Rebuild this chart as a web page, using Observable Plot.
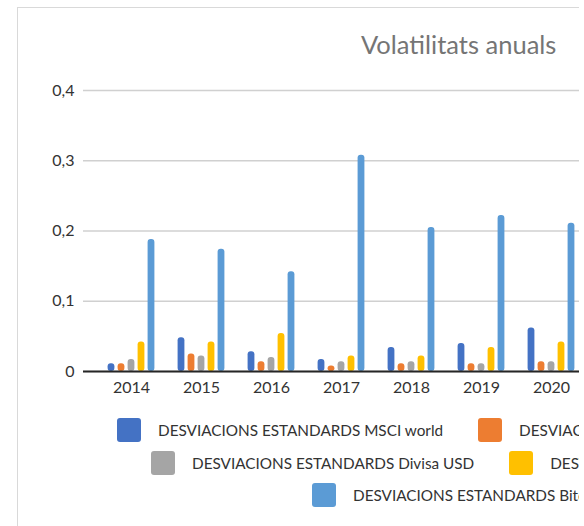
<!DOCTYPE html>
<html>
<head>
<meta charset="utf-8">
<script src="https://cdn.jsdelivr.net/npm/d3@7"></script>
<script src="https://cdn.jsdelivr.net/npm/@observablehq/plot@0.6"></script>
<style>
  html, body { margin: 0; padding: 0; background: #fff; }
  #wrap { position: relative; width: 579px; height: 526px; overflow: hidden; font-family: Lato, "Open Sans", sans-serif; }
  #frame { position: absolute; left: 17px; top: 7px; width: 900px; height: 700px; border: 1px solid #d9d9d9; box-sizing: border-box; }
  #chart { position: absolute; left: 0; top: 0; width: 579px; }
  #chart svg { max-width: none !important; }
  #title { position: absolute; left: 361px; top: 32px; font-size: 25.5px; line-height: 25.5px; color: #757575; white-space: nowrap; }
  .row { position: absolute; display: flex; align-items: center; white-space: nowrap; }
  .item { display: flex; align-items: center; margin-right: 35px; }
  .sw { width: 24px; height: 24px; border-radius: 3px; margin-right: 17px; flex: none; }
  .lab { font-size: 15.3px; color: #333; }
</style>
</head>
<body>
<div id="wrap">
  <div id="frame"></div>
  <div id="chart"></div>
  <div id="title">Volatilitats anuals</div>
  <div class="row" id="row0" style="left:117px; top:418px;"></div>
  <div class="row" id="row1" style="left:151px; top:451px;"></div>
  <div class="row" id="row2" style="left:312px; top:483px;"></div>
</div>
<script>
const years = ["2014", "2015", "2016", "2017", "2018", "2019", "2020"];
const seriesNames = [
  "DESVIACIONS ESTANDARDS MSCI world",
  "DESVIACIONS ESTANDARDS Or",
  "DESVIACIONS ESTANDARDS Divisa USD",
  "DESVIACIONS ESTANDARDS Bons",
  "DESVIACIONS ESTANDARDS Bitcoin"
];
const seriesColors = ["#4472C4", "#ED7D31", "#A5A5A5", "#FFC000", "#5B9BD5"];
const msciWorld = [0.011, 0.048, 0.028, 0.017, 0.034, 0.040, 0.062];
const orValues  = [0.011, 0.025, 0.014, 0.008, 0.011, 0.011, 0.014];
const usdValues = [0.017, 0.022, 0.020, 0.014, 0.014, 0.011, 0.014];
const bonsValues = [0.042, 0.042, 0.054, 0.022, 0.022, 0.034, 0.042];
const bitcoinValues = [0.188, 0.174, 0.142, 0.308, 0.205, 0.222, 0.211];
const yTicks = [0, 0.1, 0.2, 0.3, 0.4];
const legendRows = [[0, 1], [2, 3], [4]];

const allSeries = [msciWorld, orValues, usdValues, bonsValues, bitcoinValues];

const barMarks = allSeries.map((vals, i) =>
  Plot.barY(years.map((y, j) => ({year: y, value: vals[j]})), {
    x: "year", y: "value", fill: seriesColors[i],
    dx: (i - 2) * 10, insetLeft: 31.6, insetRight: 31.6, rx: 3
  })
);

const fmt = d => d === 0 ? "0" : d.toFixed(1).replace(".", ",");

const chart = Plot.plot({
  width: 579, height: 526,
  marginLeft: 83, marginRight: 0, marginTop: 90, marginBottom: 155,
  style: {fontFamily: "Lato, 'Open Sans', sans-serif", background: "transparent", overflow: "visible", maxWidth: "none"},
  x: {type: "band", domain: years, range: [96, 586], padding: 0, axis: null},
  y: {domain: [0, 0.4], axis: null},
  marks: [
    Plot.gridY(yTicks, {stroke: "#d0d0d0", strokeOpacity: 1, strokeWidth: 1.3}),
    ...barMarks,
    Plot.ruleY([0], {stroke: "#262626", strokeWidth: 2}),
    Plot.axisY(yTicks, {tickSize: 0, tickPadding: 9, tickFormat: fmt, fontSize: 16, fill: "#333", label: null}),
    Plot.axisX(years, {tickSize: 0, tickPadding: 10.5, fontSize: 16, fill: "#333", label: null})
  ]
});
document.getElementById("chart").appendChild(chart);

legendRows.forEach((row, r) => {
  const el = document.getElementById("row" + r);
  row.forEach(i => {
    const item = document.createElement("div");
    item.className = "item";
    const sw = document.createElement("div");
    sw.className = "sw";
    sw.style.background = seriesColors[i];
    const lab = document.createElement("span");
    lab.className = "lab";
    lab.textContent = seriesNames[i];
    item.appendChild(sw);
    item.appendChild(lab);
    el.appendChild(item);
  });
});
</script>
</body>
</html>
